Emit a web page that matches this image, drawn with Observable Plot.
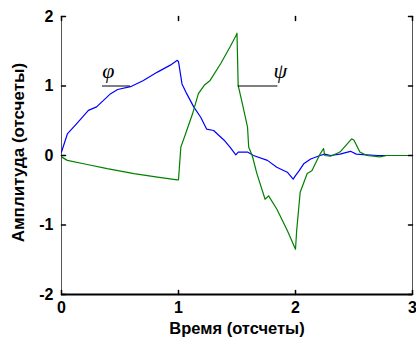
<!DOCTYPE html>
<html>
<head>
<meta charset="utf-8">
<script src="https://cdn.jsdelivr.net/npm/d3@7"></script>
<script src="https://cdn.jsdelivr.net/npm/@observablehq/plot@0.6"></script>
<style>
  html, body { margin: 0; padding: 0; background: #fff; }
  #chart { width: 416px; height: 347px; overflow: hidden; }
  svg { display: block; }
</style>
</head>
<body>
<div id="chart"></div>
<script>
// Blue curve φ
const phiX = [0, 0.05, 0.13, 0.23, 0.30, 0.42, 0.48, 0.59, 0.70, 0.82, 0.93, 0.99, 1.00, 1.03, 1.07, 1.13, 1.19, 1.24, 1.30, 1.39, 1.44, 1.49, 1.51, 1.59, 1.64, 1.76, 1.84, 1.93, 1.98, 2.00, 2.03, 2.07, 2.13, 2.21, 2.25, 2.30, 2.38, 2.47, 2.52, 2.61, 2.70, 2.77];
const phiY = [0.05, 0.31, 0.46, 0.65, 0.70, 0.89, 0.95, 0.99, 1.08, 1.20, 1.30, 1.37, 1.35, 1.03, 0.89, 0.70, 0.55, 0.38, 0.36, 0.22, 0.12, 0.01, 0.05, 0.05, 0.00, -0.07, -0.17, -0.24, -0.34, -0.29, -0.22, -0.12, -0.05, 0.00, 0.02, 0.00, 0.02, 0.06, 0.02, 0.01, 0.00, 0.00];
// Green curve ψ
const psiX = [0, 0.05, 0.22, 0.39, 0.62, 0.82, 0.99, 1.00, 1.02, 1.06, 1.12, 1.17, 1.22, 1.27, 1.36, 1.44, 1.49, 1.50, 1.51, 1.54, 1.59, 1.60, 1.63, 1.67, 1.74, 1.77, 1.84, 1.93, 2.00, 2.01, 2.04, 2.10, 2.14, 2.21, 2.24, 2.25, 2.30, 2.38, 2.48, 2.50, 2.55, 2.61, 2.72, 2.78, 3.00];
const psiY = [-0.02, -0.07, -0.13, -0.19, -0.26, -0.31, -0.35, -0.35, 0.12, 0.31, 0.60, 0.89, 1.01, 1.08, 1.32, 1.56, 1.72, 1.76, 1.01, 0.79, 0.41, 0.12, 0.00, -0.26, -0.63, -0.58, -0.77, -1.08, -1.35, -1.08, -0.53, -0.26, -0.22, 0.02, 0.10, 0.00, -0.01, 0.05, 0.24, 0.22, 0.05, 0.00, -0.02, 0.00, 0.00];

const xTicks = [0, 1, 2, 3];
const yTicks = [-2, -1, 0, 1, 2];
const xTitle = "Время (отсчеты)";
const yTitle = "Амплитуда (отсчеты)";
// Annotation labels with leader lines at amplitude 1
const labelText = ["φ", "ψ"];
const labelX = [0.40, 1.87];
const labelY = [1.12, 1.12];
const leaderX1 = [0.35, 1.51];
const leaderX2 = [0.59, 1.85];
const leaderY = [1, 1];

const phi = phiX.map((x, i) => ({x, y: phiY[i]}));
const psi = psiX.map((x, i) => ({x, y: psiY[i]}));
const labels = labelText.map((t, i) => ({t, x: labelX[i], y: labelY[i]}));
const leaders = leaderX1.map((x1, i) => ({x1, x2: leaderX2[i], y: leaderY[i]}));

const tickShape = {draw(context, l) { context.moveTo(0, 0); context.lineTo(0, -l); }};
const font = "'Liberation Sans', Arial, sans-serif";

const chart = Plot.plot({
  width: 416,
  height: 347,
  marginLeft: 61,
  marginRight: 4,
  marginTop: 16,
  marginBottom: 53,
  style: {fontFamily: font, fontSize: "16px", fontWeight: "bold", background: "#fff", color: "#000", overflow: "visible"},
  x: {domain: [0, 3]},
  y: {domain: [-2, 2]},
  marks: [
    Plot.ruleX([0], {stroke: "#555", strokeWidth: 1}),
    Plot.ruleX([3], {stroke: "#555", strokeWidth: 1}),
    Plot.line(phi, {x: "x", y: "y", stroke: "#0000ff", strokeWidth: 1.2}),
    Plot.line(psi, {x: "x", y: "y", stroke: "#008000", strokeWidth: 1.2}),
    Plot.ruleY([-2], {stroke: "#000", strokeWidth: 2}),
    Plot.vector(xTicks, {x: d => d, y: -2, length: 4, rotate: 0, anchor: "start", shape: tickShape, stroke: "#000"}),
    Plot.vector(xTicks, {x: d => d, y: 2, length: 4, rotate: 180, anchor: "start", shape: tickShape, stroke: "#000"}),
    Plot.vector(yTicks, {x: 0, y: d => d, length: 4, rotate: 90, anchor: "start", shape: tickShape, stroke: "#000"}),
    Plot.vector(yTicks, {x: 3, y: d => d, length: 4, rotate: 270, anchor: "start", shape: tickShape, stroke: "#000"}),
    Plot.axisX(xTicks, {tickSize: 0, tickPadding: 7, label: null, tickFormat: d => String(d), fontSize: 16, fontWeight: "bold"}),
    Plot.axisY(yTicks, {tickSize: 0, tickPadding: 8, label: null, tickFormat: d => String(d), fontSize: 16, fontWeight: "bold"}),
    Plot.ruleY(leaders, {x1: "x1", x2: "x2", y: "y", stroke: "#000", strokeWidth: 1}),
    Plot.text(labels, {x: "x", y: "y", text: "t", fontFamily: "'Liberation Serif', 'DejaVu Serif', serif", fontStyle: "italic", fontWeight: "normal", fontSize: 22, lineAnchor: "bottom"}),
    Plot.text([xTitle], {frameAnchor: "bottom", dy: 39, fontSize: 16.5, fontWeight: "bold"}),
    Plot.text([yTitle], {frameAnchor: "left", textAnchor: "middle", rotate: -90, dx: -43, dy: -3, fontSize: 17, fontWeight: "bold"})
  ]
});
document.getElementById("chart").appendChild(chart);
</script>
</body>
</html>
